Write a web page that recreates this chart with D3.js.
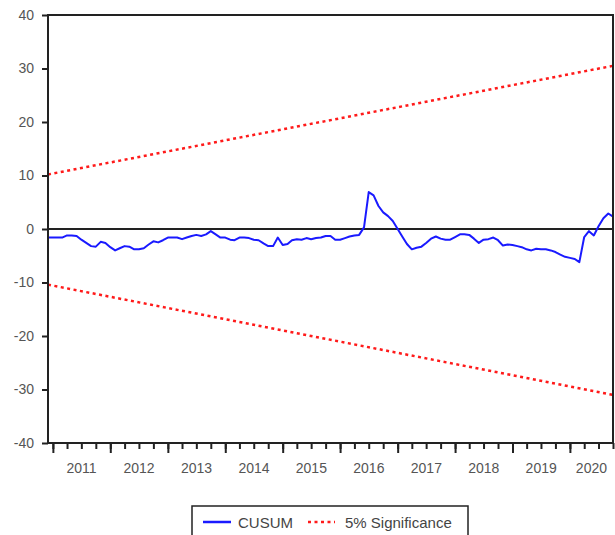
<!DOCTYPE html>
<html>
<head>
<meta charset="utf-8">
<script src="https://cdn.jsdelivr.net/npm/d3@7"></script>
<style>
  body { margin: 0; background: #fff; }
  svg { display: block; font-family: "Liberation Sans", Arial, sans-serif; }
</style>
</head>
<body>
<svg id="chart" width="615" height="535"></svg>
<script>
// monthly CUSUM, Dec 2010 .. Oct 2020
const startMonth = new Date(2010, 11, 1);
const cusum = [
  -1.6, -1.6, -1.6, -1.6, -1.2, -1.2, -1.3, -2.0, -2.6, -3.2,
  -3.3, -2.4, -2.6, -3.4, -4.0, -3.6, -3.2, -3.3, -3.8, -3.8,
  -3.6, -2.9, -2.3, -2.5, -2.1, -1.6, -1.6, -1.6, -1.9, -1.6,
  -1.3, -1.1, -1.3, -1.0, -0.4, -1.0, -1.6, -1.6, -2.0, -2.1,
  -1.6, -1.6, -1.7, -2.0, -2.1, -2.7, -3.2, -3.2, -1.6, -3.0,
  -2.8, -2.1, -1.9, -2.0, -1.7, -1.9, -1.7, -1.6, -1.3, -1.3,
  -2.0, -2.0, -1.7, -1.4, -1.2, -1.1, 0.3, 6.9, 6.3, 4.3,
  3.1, 2.4, 1.5, 0.0, -1.5, -2.8, -3.8, -3.5, -3.3, -2.6,
  -1.8, -1.4, -1.8, -2.0, -2.0, -1.5, -1.0, -1.0, -1.1, -1.8,
  -2.6, -2.0, -1.9, -1.6, -2.1, -3.1, -2.9, -3.0, -3.2, -3.4,
  -3.8, -4.0, -3.7, -3.8, -3.8, -4.0, -4.3, -4.8, -5.2, -5.4,
  -5.6, -6.2, -1.5, -0.4, -1.2, 0.5, 2.0, 2.9, 2.3
];
const sigEnds = [new Date(2010, 11, 1), new Date(2020, 9, 1)];
const sigUpper = [10.2, 30.5];
const sigLower = [-10.4, -31.0];
const yTicks = [-40, -30, -20, -10, 0, 10, 20, 30, 40];
const years = [2011, 2012, 2013, 2014, 2015, 2016, 2017, 2018, 2019, 2020];
const legendItems = ['CUSUM', '5% Significance'];

const svg = d3.select('#chart');
const m = { left: 48, right: 613, top: 15, bottom: 443 };

const cusumData = cusum.map((v, i) => ({ date: d3.timeMonth.offset(startMonth, i), value: v }));
const endMonth = cusumData[cusumData.length - 1].date;

const x = d3.scaleTime().domain([startMonth, endMonth]).range([m.left, m.right]);
const y = d3.scaleLinear().domain([-40, 40]).range([m.bottom, m.top]);

// y axis (plain hyphen minus like the original)
const yAxis = svg.append('g')
  .attr('transform', `translate(${m.left},0)`)
  .call(d3.axisLeft(y).tickValues(yTicks).tickSize(6).tickPadding(8).tickFormat(d => String(d)));
yAxis.select('.domain').remove();
yAxis.selectAll('line').attr('stroke', '#222').attr('stroke-width', 2);
yAxis.selectAll('text').attr('fill', '#555').style('font-size', '14px');

// x axis: quarterly minor, yearly major ticks
const quarters = d3.timeMonth.range(startMonth, d3.timeMonth.offset(endMonth, 1))
  .filter(d => d.getMonth() % 3 === 0);
const xMinor = svg.append('g')
  .attr('transform', `translate(0,${m.bottom})`)
  .call(d3.axisBottom(x).tickValues(quarters).tickSize(6).tickFormat(''));
xMinor.select('.domain').remove();
xMinor.selectAll('line').attr('stroke', '#222').attr('stroke-width', 2);

const yearStarts = years.map(yr => new Date(yr, 0, 1));
const xMajor = svg.append('g')
  .attr('transform', `translate(0,${m.bottom})`)
  .call(d3.axisBottom(x).tickValues(yearStarts).tickSize(10).tickFormat(''));
xMajor.select('.domain').remove();
xMajor.selectAll('line').attr('stroke', '#222').attr('stroke-width', 2);

// year labels centred in the visible part of each year
svg.append('g').selectAll('text')
  .data(years)
  .join('text')
  .attr('x', yr => {
    const a = Math.max(x(new Date(yr, 0, 1)), m.left);
    const b = Math.min(x(new Date(yr + 1, 0, 1)), m.right);
    return (a + b) / 2;
  })
  .attr('y', 473)
  .attr('text-anchor', 'middle')
  .attr('fill', '#555')
  .style('font-size', '14px')
  .text(d => d);

// zero line
svg.append('line')
  .attr('x1', m.left).attr('x2', m.right)
  .attr('y1', y(0)).attr('y2', y(0))
  .attr('stroke', '#222').attr('stroke-width', 2);

// significance bands
const sigLine = d3.line().x(d => x(d[0])).y(d => y(d[1]));
[sigUpper, sigLower].forEach(band => {
  svg.append('path')
    .datum(sigEnds.map((d, i) => [d, band[i]]))
    .attr('fill', 'none')
    .attr('stroke', '#ff1a1a')
    .attr('stroke-width', 2.5)
    .attr('stroke-dasharray', '3,3.5')
    .attr('d', sigLine);
});

// CUSUM line
svg.append('path')
  .datum(cusumData)
  .attr('fill', 'none')
  .attr('stroke', '#1a1aff')
  .attr('stroke-width', 2)
  .attr('stroke-linejoin', 'round')
  .attr('d', d3.line().x(d => x(d.date)).y(d => y(d.value)));

// frame
svg.append('rect')
  .attr('x', m.left).attr('y', m.top)
  .attr('width', m.right - m.left).attr('height', m.bottom - m.top)
  .attr('fill', 'none').attr('stroke', '#222').attr('stroke-width', 2);

// legend
const lg = svg.append('g');
lg.append('rect')
  .attr('x', 192).attr('y', 506).attr('width', 276).attr('height', 40)
  .attr('fill', '#fff').attr('stroke', '#222').attr('stroke-width', 1.5);
lg.append('line')
  .attr('x1', 203).attr('x2', 231).attr('y1', 522).attr('y2', 522)
  .attr('stroke', '#1a1aff').attr('stroke-width', 2.5);
lg.append('text')
  .attr('x', 238).attr('y', 528)
  .attr('fill', '#444').style('font-size', '15px')
  .text(legendItems[0]);
lg.append('line')
  .attr('x1', 308).attr('x2', 335).attr('y1', 522).attr('y2', 522)
  .attr('stroke', '#ff1a1a').attr('stroke-width', 2.5)
  .attr('stroke-dasharray', '3,3.5');
lg.append('text')
  .attr('x', 345).attr('y', 528)
  .attr('fill', '#444').style('font-size', '15px')
  .text(legendItems[1]);
</script>
</body>
</html>
